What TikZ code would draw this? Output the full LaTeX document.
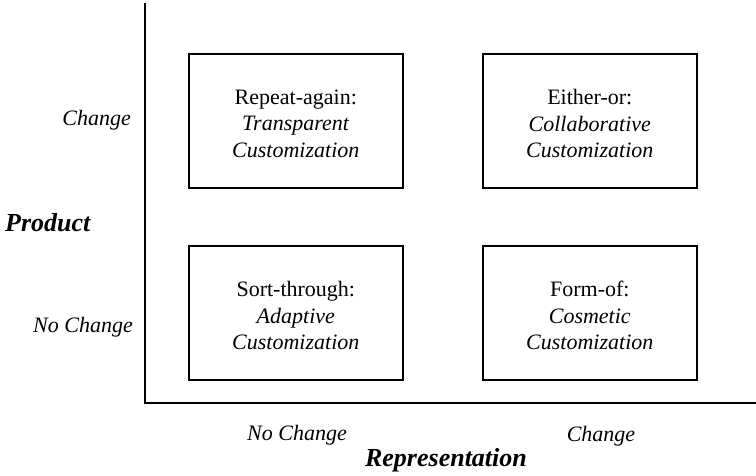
\documentclass[tikz,border=0pt]{standalone}
\usepackage{fontspec}
\setmainfont{Liberation Serif}
\begin{document}
\begin{tikzpicture}[x=1pt,y=-1pt,
  quad/.style={draw,line width=1.6pt,minimum width=214pt,minimum height=134pt,inner sep=0pt,anchor=north west},
  quadtext/.style={align=center,font=\fontsize{22}{26.5}\selectfont},
  axlabel/.style={font=\fontsize{22}{26}\selectfont\itshape,inner sep=0pt},
  axtitle/.style={font=\fontsize{26}{30}\selectfont\bfseries\itshape,inner sep=0pt}]
\useasboundingbox (0,0) rectangle (756,475);
\coordinate (top) at (145,3);
\coordinate (origin) at (145,403);
\coordinate (right) at (756,403);
\draw[line width=2.6pt] (top) -- (origin) -- (right);
\node[quad] (tl) at (188,53) {};
\node[quad] (tr) at (482,53) {};
\node[quad] (bl) at (188,245) {};
\node[quad] (br) at (482,245) {};
\node[quadtext] (tlt) at ([yshift=-3pt]tl.center) {Repeat-again:\\\textit{Transparent}\\\textit{Customization}};
\node[quadtext] (trt) at ([yshift=-3pt]tr.center) {Either-or:\\\textit{Collaborative}\\\textit{Customization}};
\node[quadtext] (blt) at ([yshift=-3pt]bl.center) {Sort-through:\\\textit{Adaptive}\\\textit{Customization}};
\node[quadtext] (brt) at ([yshift=-3pt]br.center) {Form-of:\\\textit{Cosmetic}\\\textit{Customization}};
\node[axlabel,anchor=east] (ychange) at (131,120) {Change};
\node[axlabel,anchor=east] (ynochange) at (133,327) {No Change};
\node[axtitle,anchor=west] (product) at (5,223) {Product};
\node[axlabel] (xnochange) at (297,435) {No Change};
\node[axlabel] (xchange) at (601,436) {Change};
\node[axtitle] (repr) at (446,460) {Representation};
\end{tikzpicture}
\end{document}
